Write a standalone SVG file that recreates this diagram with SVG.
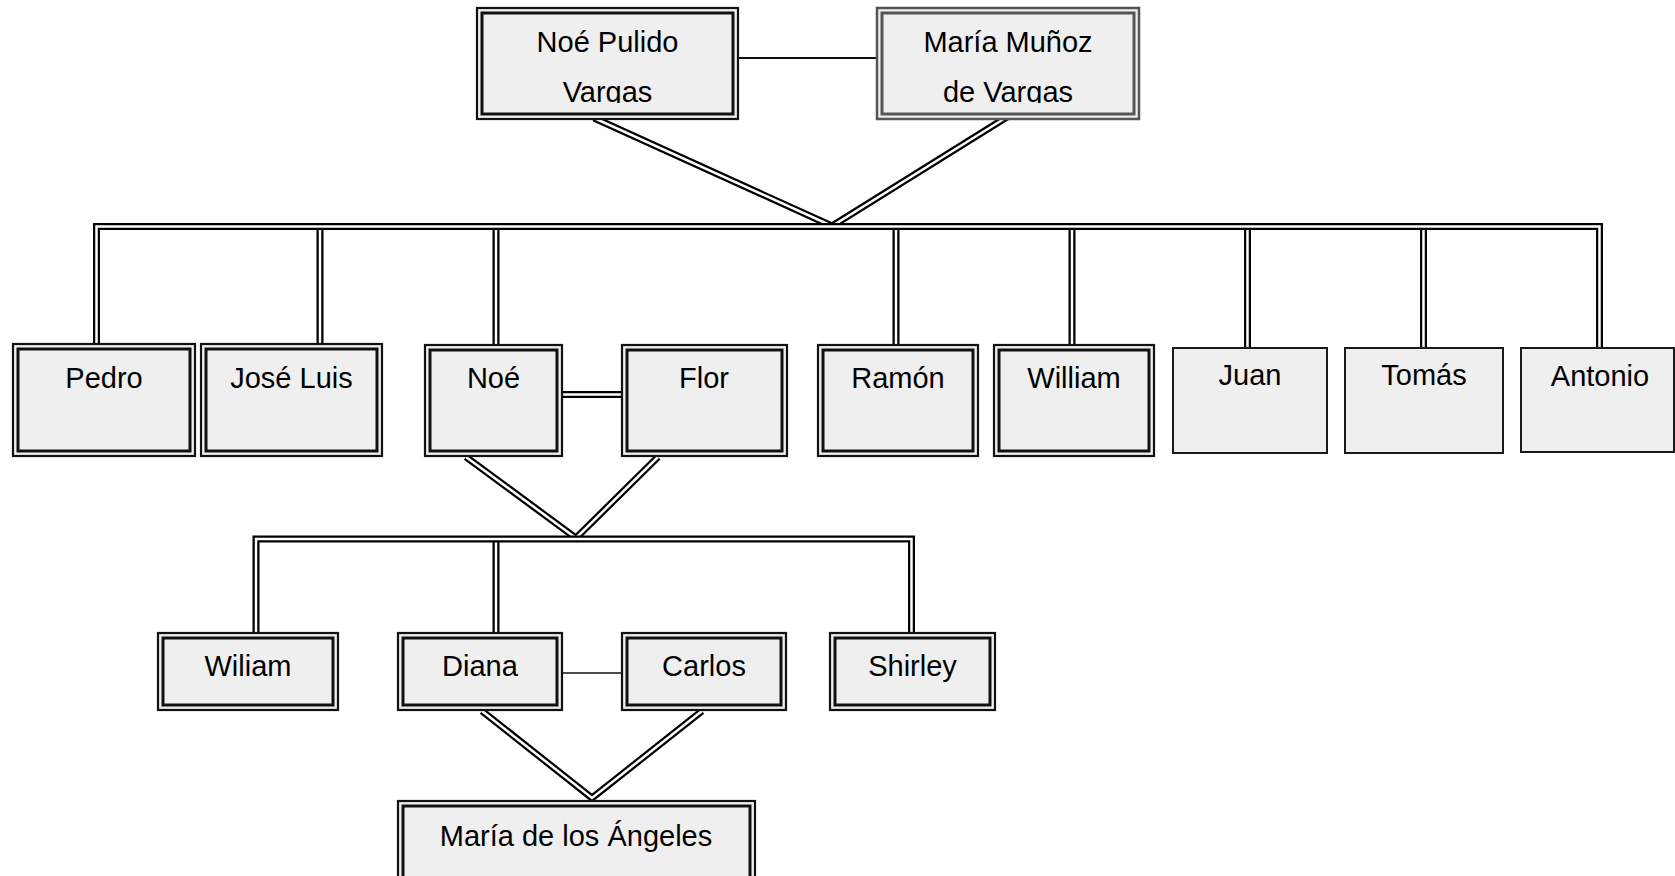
<svg xmlns="http://www.w3.org/2000/svg" xmlns:xlink="http://www.w3.org/1999/xlink" width="1675" height="876" viewBox="0 0 1675 876">
<style>
.bg{fill:#ffffff}
.o{fill:#efefef;stroke:#111;stroke-width:2.2}
.i{fill:none;stroke:#111;stroke-width:3}
.og{fill:#efefef;stroke:#555;stroke-width:2.5}
.ig{fill:none;stroke:#555;stroke-width:3}
.s{fill:#efefef;stroke:#1a1a1a;stroke-width:2}
.t{font-family:"Liberation Sans",Arial,sans-serif;font-size:29px;fill:#000;text-anchor:middle}
.dk{fill:none;stroke:#000;stroke-width:7;stroke-linejoin:miter}
.wt{fill:none;stroke:#fff;stroke-width:2.5;stroke-linejoin:miter}
.dk2{fill:none;stroke:#000;stroke-width:7}
.wt2{fill:none;stroke:#fff;stroke-width:2.5}
.sl{fill:none;stroke:#111;stroke-width:2}
</style>
<defs>
<clipPath id="topclip" clipPathUnits="userSpaceOnUse"><rect x="0" y="0" width="1675" height="103"/></clipPath>
<path id="v1" d="M594,118 L832,226 L1007,117"/>
<path id="v2" d="M466,457 L576,538 L658,457"/>
<path id="v3" d="M482,711 L592,798 L702,711"/>
<path id="d1" d="M320,228 V345 M496,228 V346 M896,228 V346 M1072,228 V346 M1247.5,228 V349 M1423.5,228 V349"/>
<path id="b1" d="M96.5,345 V226.5 H1599.5 V349"/>
<path id="d2" d="M496,540 V634"/>
<path id="b2" d="M256,634 V539 H911.5 V634"/>
<path id="m1" d="M561,394.5 H623"/>
</defs>
<rect class="bg" x="0" y="0" width="1675" height="876"/>
<g id="connectors">
<use xlink:href="#v1" class="dk"/><use xlink:href="#v1" class="wt"/>
<use xlink:href="#v2" class="dk"/><use xlink:href="#v2" class="wt"/>
<use xlink:href="#v3" class="dk"/><use xlink:href="#v3" class="wt"/>
<use xlink:href="#d1" class="dk"/><use xlink:href="#d1" class="wt"/>
<use xlink:href="#b1" class="dk"/><use xlink:href="#b1" class="wt"/>
<use xlink:href="#d2" class="dk"/><use xlink:href="#d2" class="wt"/>
<use xlink:href="#b2" class="dk"/><use xlink:href="#b2" class="wt"/>
<use xlink:href="#m1" class="dk2"/><use xlink:href="#m1" class="wt2"/>
<line class="sl" x1="738" y1="58" x2="878" y2="58"/>
<line class="sl" x1="562" y1="673" x2="623" y2="673" style="stroke-width:1.5"/>
</g>
<g id="noe-pulido-vargas">
<rect class="o" x="477" y="8" width="261" height="111"/><rect class="i" x="482" y="13" width="251" height="101"/>
<g clip-path="url(#topclip)"><text class="t" x="607.5" y="52">Noé Pulido</text><text class="t" x="607.5" y="102">Vargas</text></g>
</g>
<g id="maria-munoz-de-vargas">
<rect class="og" x="877" y="8" width="262" height="111"/><rect class="ig" x="882" y="13" width="252" height="101"/>
<g clip-path="url(#topclip)"><text class="t" x="1008" y="52">María Muñoz</text><text class="t" x="1008" y="102">de Vargas</text></g>
</g>
<g id="pedro"><rect class="o" x="13" y="344" width="182" height="112"/><rect class="i" x="18" y="349" width="172" height="102"/><text class="t" x="104" y="388">Pedro</text></g>
<g id="jose-luis"><rect class="o" x="201" y="344" width="181" height="112"/><rect class="i" x="206" y="349" width="171" height="102"/><text class="t" x="291.5" y="388">José Luis</text></g>
<g id="noe"><rect class="o" x="425" y="345" width="137" height="111"/><rect class="i" x="430" y="350" width="127" height="101"/><text class="t" x="493.5" y="388">Noé</text></g>
<g id="flor"><rect class="o" x="622" y="345" width="165" height="111"/><rect class="i" x="627" y="350" width="155" height="101"/><text class="t" x="704" y="388">Flor</text></g>
<g id="ramon"><rect class="o" x="818" y="345" width="160" height="111"/><rect class="i" x="823" y="350" width="150" height="101"/><text class="t" x="898" y="388">Ramón</text></g>
<g id="william"><rect class="o" x="994" y="345" width="160" height="111"/><rect class="i" x="999" y="350" width="150" height="101"/><text class="t" x="1074" y="388">William</text></g>
<g id="juan"><rect class="s" x="1173" y="348" width="154" height="105"/><text class="t" x="1250" y="385">Juan</text></g>
<g id="tomas"><rect class="s" x="1345" y="348" width="158" height="105"/><text class="t" x="1424" y="385">Tomás</text></g>
<g id="antonio"><rect class="s" x="1521" y="348" width="153" height="104"/><text class="t" x="1600" y="386">Antonio</text></g>
<g id="wiliam"><rect class="o" x="158" y="633" width="180" height="77"/><rect class="i" x="163" y="638" width="170" height="67"/><text class="t" x="248" y="676">Wiliam</text></g>
<g id="diana"><rect class="o" x="398" y="633" width="164" height="77"/><rect class="i" x="403" y="638" width="154" height="67"/><text class="t" x="480" y="676">Diana</text></g>
<g id="carlos"><rect class="o" x="622" y="633" width="164" height="77"/><rect class="i" x="627" y="638" width="154" height="67"/><text class="t" x="704" y="676">Carlos</text></g>
<g id="shirley"><rect class="o" x="830" y="633" width="165" height="77"/><rect class="i" x="835" y="638" width="155" height="67"/><text class="t" x="912.5" y="676">Shirley</text></g>
<g id="maria-de-los-angeles"><rect class="o" x="398" y="801" width="357" height="90"/><rect class="i" x="403" y="806" width="347" height="80"/><text class="t" x="576" y="846">María de los Ángeles</text></g>
</svg>
